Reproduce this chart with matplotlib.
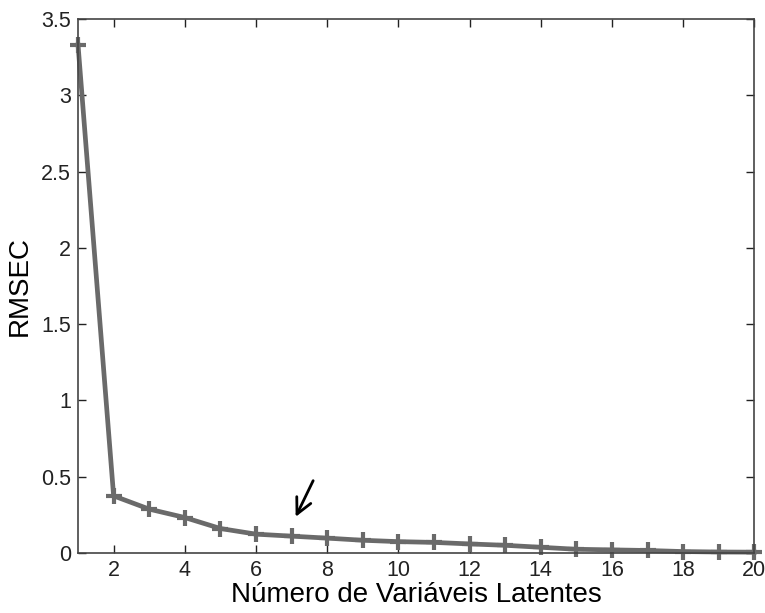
import matplotlib
matplotlib.use("Agg")
import matplotlib.pyplot as plt

# RMSEC for each number of latent variables
n_latent = list(range(1, 21))
rmsec = [3.33, 0.374, 0.287, 0.232, 0.160, 0.123, 0.110, 0.097, 0.083, 0.074,
         0.069, 0.059, 0.050, 0.037, 0.024, 0.020, 0.016, 0.009, 0.006, 0.005]

x_ticks = [2, 4, 6, 8, 10, 12, 14, 16, 18, 20]
y_ticks = [0, 0.5, 1, 1.5, 2, 2.5, 3, 3.5]
y_tick_labels = ['0', '0.5', '1', '1.5', '2', '2.5', '3', '3.5']

plt.rcParams['font.family'] = ['Liberation Sans', 'DejaVu Sans']

fig = plt.figure(figsize=(7.65, 6.13), dpi=100)
ax = fig.add_axes([0.102, 0.098, 0.884, 0.871])

ax.plot(n_latent, rmsec, color='#6a6a6a', linewidth=3.4,
        marker='+', markersize=12, markeredgewidth=3, clip_on=False)

# arrow pointing at the chosen number of latent variables
ax.annotate('', xy=(7.08, 0.22), xytext=(7.64, 0.49),
            arrowprops=dict(arrowstyle='->', color='black', lw=2,
                            mutation_scale=28))

ax.set_xlim(1, 20)
ax.set_ylim(0, 3.5)
ax.set_xticks(x_ticks)
ax.set_yticks(y_ticks)
ax.set_yticklabels(y_tick_labels)
ax.tick_params(direction='in', top=True, right=True, length=6, width=1,
               labelsize=15.5, colors='#222222', pad=5)
for side in ax.spines.values():
    side.set_color('#444444')
    side.set_linewidth(1.2)

ax.set_xlabel('Número de Variáveis Latentes', fontsize=20, labelpad=1)
ax.set_ylabel('RMSEC', fontsize=20, labelpad=6)

fig.savefig('out.png', dpi=100)
